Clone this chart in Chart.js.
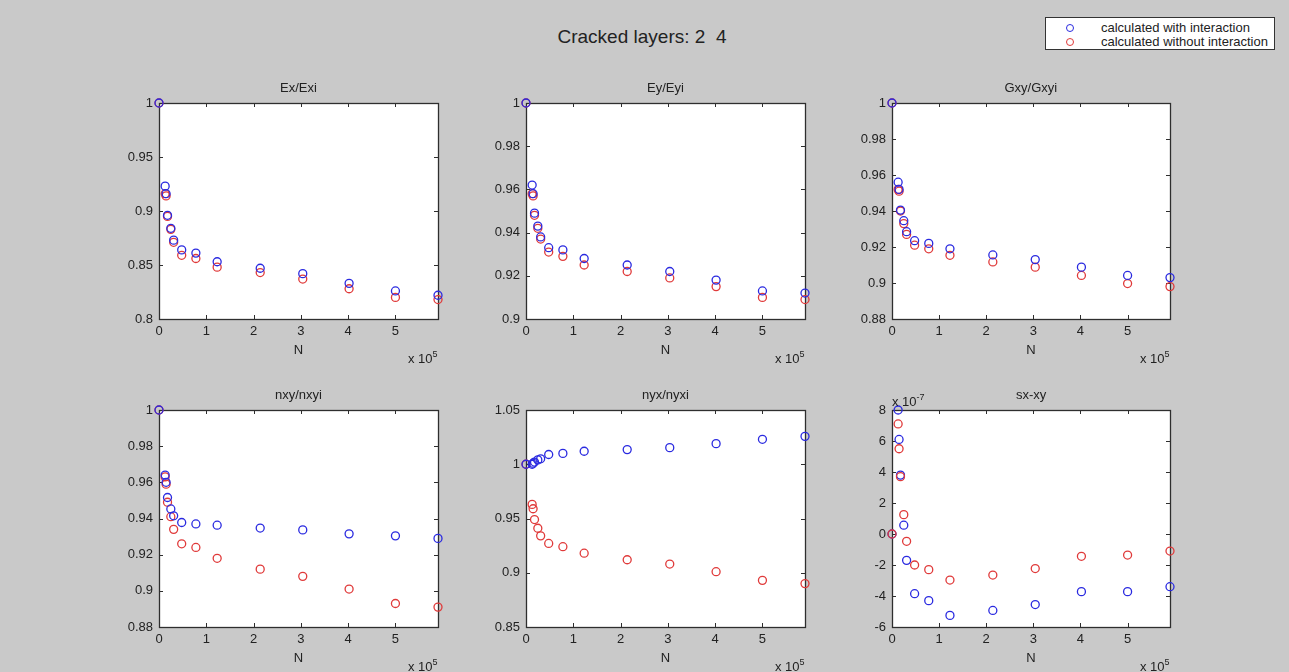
<!DOCTYPE html>
<html>
<head>
<meta charset="utf-8">
<script src="https://cdn.jsdelivr.net/npm/chart.js@4"></script>
<style>
  html, body { margin: 0; padding: 0; background: #c9c9c9; }
  #fig { position: relative; width: 1289px; height: 672px; background: #c9c9c9; overflow: hidden;
         font-family: "Liberation Sans", Arial, sans-serif; color: #222; }
  #fig canvas { position: absolute; }
  .txt { position: absolute; white-space: nowrap; line-height: 1; }
  .txt sup { font-size: 9px; vertical-align: 6px; }
  #legend { position: absolute; left: 1045px; top: 17px; width: 228px; height: 31px;
            background: #fff; border: 1px solid #333; }
  #legend .row { position: absolute; left: 0; height: 14px; font-size: 13px; line-height: 14px; }
  #legend .mk { position: absolute; left: 20px; top: 3px; width: 6px; height: 6px;
                border-radius: 50%; border: 1.4px solid; }
  #legend .lb { position: absolute; left: 55px; top: 0; white-space: nowrap; }
</style>
</head>
<body>
<div id="fig">
  <div class="txt" id="mainTitle" style="font-size:19px;">Cracked layers: 2&nbsp;&nbsp;4</div>
  <div id="legend">
    <div class="row" style="top:3px;"><span class="mk" style="border-color:#2a2ae0"></span><span class="lb">calculated with interaction</span></div>
    <div class="row" style="top:17px;"><span class="mk" style="border-color:#e03a3a"></span><span class="lb">calculated without interaction</span></div>
  </div>
</div>
<script>
// Number of load cycles N
const N = [0, 13000, 15000, 18000, 25000, 31000, 48000, 78000, 123000, 214000, 304000, 402000, 500000, 590000];
const xTicks = [0, 100000, 200000, 300000, 400000, 500000];
const xMax = 590000;

// Ex/Exi
const exWith    = [1, 0.923, 0.916, 0.896, 0.884, 0.873, 0.864, 0.861, 0.853, 0.847, 0.842, 0.833, 0.826, 0.822];
const exWithout = [1, 0.916, 0.914, 0.895, 0.883, 0.871, 0.859, 0.856, 0.848, 0.843, 0.837, 0.828, 0.820, 0.818];
const exTicks   = [0.8, 0.85, 0.9, 0.95, 1];

// Ey/Eyi
const eyWith    = [1, 0.962, 0.958, 0.949, 0.943, 0.938, 0.933, 0.932, 0.928, 0.925, 0.922, 0.918, 0.913, 0.912];
const eyWithout = [1, 0.958, 0.957, 0.948, 0.942, 0.937, 0.931, 0.929, 0.925, 0.922, 0.919, 0.915, 0.910, 0.909];
const eyTicks   = [0.9, 0.92, 0.94, 0.96, 0.98, 1];

// Gxy/Gxyi
const gxyWith    = [1, 0.956, 0.952, 0.9405, 0.9346, 0.9285, 0.9235, 0.922, 0.919, 0.9156, 0.913, 0.9088, 0.9042, 0.903];
const gxyWithout = [1, 0.952, 0.951, 0.940, 0.933, 0.927, 0.921, 0.919, 0.9154, 0.9117, 0.9088, 0.9042, 0.8997, 0.898];
const gxyTicks   = [0.88, 0.9, 0.92, 0.94, 0.96, 0.98, 1];

// nxy/nxyi
const nxyWith    = [1, 0.964, 0.960, 0.9516, 0.9453, 0.9415, 0.9378, 0.937, 0.9363, 0.9347, 0.9337, 0.9315, 0.9304, 0.929];
const nxyWithout = [1, 0.963, 0.959, 0.949, 0.941, 0.934, 0.926, 0.924, 0.918, 0.912, 0.908, 0.901, 0.893, 0.891];
const nxyTicks   = [0.88, 0.9, 0.92, 0.94, 0.96, 0.98, 1];

// nyx/nyxi
const nyxWith    = [1, 1.000, 1.001, 1.002, 1.004, 1.005, 1.009, 1.010, 1.012, 1.0135, 1.0153, 1.019, 1.023, 1.0257];
const nyxWithout = [1, 0.963, 0.959, 0.949, 0.941, 0.934, 0.927, 0.924, 0.918, 0.912, 0.908, 0.901, 0.893, 0.890];
const nyxTicks   = [0.85, 0.9, 0.95, 1, 1.05];

// sx-xy
const sxWith    = [0, 8.0e-7, 6.1e-7, 3.8e-7, 0.57e-7, -1.7e-7, -3.85e-7, -4.3e-7, -5.25e-7, -4.93e-7, -4.55e-7, -3.72e-7, -3.72e-7, -3.4e-7];
const sxWithout = [0, 7.1e-7, 5.5e-7, 3.7e-7, 1.25e-7, -0.47e-7, -2.0e-7, -2.3e-7, -2.97e-7, -2.65e-7, -2.23e-7, -1.44e-7, -1.36e-7, -1.1e-7];
const sxTicks   = [-6e-7, -4e-7, -2e-7, 0, 2e-7, 4e-7, 6e-7, 8e-7];

const BLUE = '#2a2ae0';
const RED = '#e03a3a';
const TXT = '#222';
const FONT = '"Liberation Sans", Arial, sans-serif';

const cols = [{ l: 159, r: 438 }, { l: 526, r: 805 }, { l: 892, r: 1170 }];
const rows = [{ t: 103, b: 319 }, { t: 410, b: 627 }];

const ratioFmt = v => String(parseFloat(v.toFixed(3)));
const sxFmt = v => String(Math.round(v * 1e7));

const panels = [
  { title: 'Ex/Exi',   a: exWith,  b: exWithout,  yt: exTicks,  fmt: ratioFmt, row: 0, col: 0 },
  { title: 'Ey/Eyi',   a: eyWith,  b: eyWithout,  yt: eyTicks,  fmt: ratioFmt, row: 0, col: 1 },
  { title: 'Gxy/Gxyi', a: gxyWith, b: gxyWithout, yt: gxyTicks, fmt: ratioFmt, row: 0, col: 2 },
  { title: 'nxy/nxyi', a: nxyWith, b: nxyWithout, yt: nxyTicks, fmt: ratioFmt, row: 1, col: 0 },
  { title: 'nyx/nyxi', a: nyxWith, b: nyxWithout, yt: nyxTicks, fmt: ratioFmt, row: 1, col: 1 },
  { title: 'sx-xy',    a: sxWith,  b: sxWithout,  yt: sxTicks,  fmt: sxFmt,    row: 1, col: 2, redTop: true, yExp: '-7' }
];

// white axes background, box frame and inward tick marks
const framePlugin = {
  id: 'frame',
  beforeDraw(chart) {
    const { ctx, chartArea: a } = chart;
    ctx.save();
    ctx.fillStyle = '#fff';
    ctx.fillRect(a.left, a.top, a.right - a.left, a.bottom - a.top);
    ctx.restore();
  },
  beforeDatasetsDraw(chart) {
    const { ctx, chartArea: a, scales: { x, y } } = chart;
    ctx.save();
    ctx.strokeStyle = '#2e2e2e';
    ctx.lineWidth = 1;
    ctx.beginPath();
    for (const t of x.ticks) {
      const px = Math.round(x.getPixelForValue(t.value)) + 0.5;
      ctx.moveTo(px, a.bottom); ctx.lineTo(px, a.bottom - 4);
      ctx.moveTo(px, a.top); ctx.lineTo(px, a.top + 4);
    }
    for (const t of y.ticks) {
      const py = Math.round(y.getPixelForValue(t.value)) + 0.5;
      ctx.moveTo(a.left, py); ctx.lineTo(a.left + 4, py);
      ctx.moveTo(a.right, py); ctx.lineTo(a.right - 4, py);
    }
    ctx.stroke();
    ctx.lineWidth = 1.3;
    ctx.strokeRect(Math.round(a.left) + 0.5, Math.round(a.top) + 0.5,
                   Math.round(a.right - a.left), Math.round(a.bottom - a.top));
    ctx.restore();
  }
};

const fig = document.getElementById('fig');
const PAD_L = 70, PAD_T = 40, PAD_R = 30, PAD_B = 60;

function addText(html, style) {
  const d = document.createElement('div');
  d.className = 'txt';
  d.innerHTML = html;
  Object.assign(d.style, style);
  fig.appendChild(d);
  return d;
}

panels.forEach(p => {
  const c = cols[p.col], r = rows[p.row];
  const w = c.r - c.l, h = r.b - r.t;
  const cv = document.createElement('canvas');
  const cw = w + PAD_L + PAD_R, ch = h + PAD_T + PAD_B;
  cv.width = cw; cv.height = ch;
  cv.style.left = (c.l - PAD_L) + 'px';
  cv.style.top = (r.t - PAD_T) + 'px';
  cv.style.width = cw + 'px';
  cv.style.height = ch + 'px';
  fig.appendChild(cv);

  const mk = (vals, color) => ({
    data: N.map((n, i) => ({ x: n, y: vals[i] })),
    borderColor: color,
    backgroundColor: 'rgba(0,0,0,0)',
    pointRadius: 4,
    pointBorderWidth: 1.3,
    showLine: false,
    clip: false
  });
  const blue = mk(p.a, BLUE), red = mk(p.b, RED);

  new Chart(cv, {
    type: 'scatter',
    data: { datasets: p.redTop ? [red, blue] : [blue, red] },
    options: {
      responsive: false,
      animation: false,
      devicePixelRatio: 1,
      layout: { padding: { left: 0, top: PAD_T, right: PAD_R, bottom: 0 } },
      plugins: { legend: { display: false }, tooltip: { enabled: false }, title: { display: false } },
      scales: {
        x: {
          type: 'linear', min: 0, max: xMax,
          grid: { display: false, drawTicks: false }, border: { display: false },
          afterBuildTicks: s => { s.ticks = xTicks.map(v => ({ value: v })); },
          afterFit: s => { s.height = PAD_B; },
          ticks: { callback: v => String(v / 100000), color: TXT, padding: 5, maxRotation: 0, autoSkip: false,
                   font: { family: FONT, size: 13 } },
          title: { display: true, text: 'N', color: TXT, font: { family: FONT, size: 13 },
                   padding: { top: 0, bottom: 21 } }
        },
        y: {
          type: 'linear', min: p.yt[0], max: p.yt[p.yt.length - 1],
          grid: { display: false, drawTicks: false }, border: { display: false },
          afterBuildTicks: s => { s.ticks = p.yt.map(v => ({ value: v })); },
          afterFit: s => { s.width = PAD_L; },
          ticks: { callback: v => p.fmt(v), color: TXT, padding: 6, autoSkip: false,
                   font: { family: FONT, size: 13 } }
        }
      }
    },
    plugins: [framePlugin]
  });

  // panel title
  const t = addText(p.title, { fontSize: '13px', top: (r.t - 22) + 'px' });
  t.style.left = ((c.l + c.r) / 2 - t.offsetWidth / 2) + 'px';

  // x exponent
  const e = addText('x 10<sup>5</sup>', { fontSize: '13px', top: (r.b + 31) + 'px' });
  e.style.left = (c.r - e.offsetWidth) + 'px';

  if (p.yExp) {
    addText('x 10<sup>' + p.yExp + '</sup>', { fontSize: '13px', top: (r.t - 17) + 'px', left: c.l + 'px' });
  }
});

const mt = document.getElementById('mainTitle');
mt.style.top = '27px';
mt.style.left = (642 - mt.offsetWidth / 2) + 'px';
</script>
</body>
</html>
